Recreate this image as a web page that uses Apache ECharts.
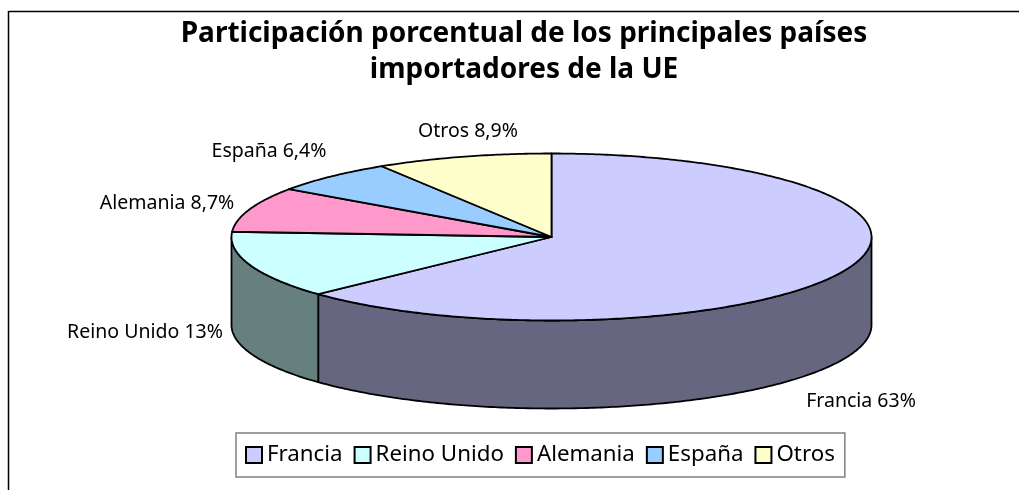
<!DOCTYPE html>
<html>
<head>
<meta charset="utf-8">
<style>
html, body { margin: 0; padding: 0; background: #fff; }
#main { width: 1019px; height: 490px; }
</style>
<script src="https://cdn.jsdelivr.net/npm/echarts@6/dist/echarts.min.js"></script>
</head>
<body>
<div id="main"></div>
<script>
var categories = ['Francia', 'Reino Unido', 'Alemania', 'España', 'Otros'];
var values = [63, 13, 8.7, 6.4, 8.9];
var topColors = ['#CCCCFF', '#CCFFFF', '#FF99CC', '#99CCFF', '#FFFFCC'];
var sideColors = ['#666680', '#668080', '#804C66', '#4C6680', '#808066'];
var valueLabels = ['63%', '13%', '8,7%', '6,4%', '8,9%'];

// posicion de la torta (elipse) y de las etiquetas
var cx = 551.5, cy = 237, rx = 320, ry = 83.5, depth = 88;
var labelPos = [[861, 401], [145, 332], [167, 203], [269, 151], [468, 131]];
var FONT = '"Noto Sans", sans-serif';

var total = values.reduce(function (a, b) { return a + b; }, 0);

function arcPoints(from, to, dy) {
    var pts = [];
    var n = Math.max(2, Math.ceil(Math.abs(to - from) * 1.5));
    for (var i = 0; i <= n; i++) {
        var a = (from + (to - from) * i / n) * Math.PI / 180;
        pts.push([cx + rx * Math.sin(a), cy - ry * Math.cos(a) + dy]);
    }
    return pts;
}

function renderSlice(params, api) {
    var i = params.seriesIndex;
    var before = 0;
    for (var k = 0; k < i; k++) before += values[k];
    var start = before / total * 360;
    var end = (before + api.value(0)) / total * 360;
    var children = [];
    var lineStyle = { stroke: '#000', lineWidth: 1.8, lineJoin: 'round' };

    // pared lateral, solo la parte delantera
    var wallFrom = Math.max(start, 90), wallTo = Math.min(end, 270);
    if (wallTo > wallFrom) {
        var top = arcPoints(wallFrom, wallTo, 0);
        var bottom = arcPoints(wallFrom, wallTo, depth).reverse();
        children.push({
            type: 'polygon',
            shape: { points: top.concat(bottom) },
            style: Object.assign({ fill: sideColors[i] }, lineStyle)
        });
    }

    children.push({
        type: 'polygon',
        z2: 5,
        shape: { points: [[cx, cy]].concat(arcPoints(start, end, 0)) },
        style: Object.assign({ fill: topColors[i] }, lineStyle)
    });

    children.push({
        type: 'text',
        z2: 6,
        style: {
            x: labelPos[i][0],
            y: labelPos[i][1],
            text: categories[i] + ' ' + valueLabels[i],
            fill: '#000',
            font: '19.5px ' + FONT,
            align: 'center',
            verticalAlign: 'middle'
        }
    });
    return { type: 'group', children: children };
}

var series = categories.map(function (name, i) {
    return {
        type: 'custom',
        name: name,
        coordinateSystem: 'none',
        renderItem: renderSlice,
        silent: true,
        animation: false,
        itemStyle: { color: topColors[i], borderColor: '#000', borderWidth: 1.8 },
        data: [[values[i]]]
    };
});

var chart = echarts.init(document.getElementById('main'));
chart.setOption({
    animation: false,
    backgroundColor: '#fff',
    title: {
        text: 'Participación porcentual de los principales países\nimportadores de la UE',
        left: 519,
        top: 11,
        textAlign: 'center',
        textStyle: { fontFamily: FONT, fontSize: 28, fontWeight: 'bold', lineHeight: 36, color: '#000' }
    },
    legend: {
        data: categories,
        left: 236,
        top: 433,
        icon: 'rect',
        itemWidth: 16,
        itemHeight: 16,
        itemGap: 11,
        padding: [11, 10, 11, 9],
        borderColor: '#808080',
        borderWidth: 1.5,
        backgroundColor: '#fff',
        selectedMode: false,
        textStyle: { fontFamily: FONT, fontSize: 22.3, color: '#000' }
    },
    graphic: [{
        type: 'line',
        silent: true,
        shape: { x1: 8.5, y1: 11.5, x2: 1019, y2: 11.5 },
        style: { stroke: '#000', lineWidth: 1.5 }
    }, {
        type: 'line',
        silent: true,
        shape: { x1: 8.5, y1: 11, x2: 8.5, y2: 490 },
        style: { stroke: '#000', lineWidth: 1.5 }
    }],
    series: series
});
</script>
</body>
</html>
